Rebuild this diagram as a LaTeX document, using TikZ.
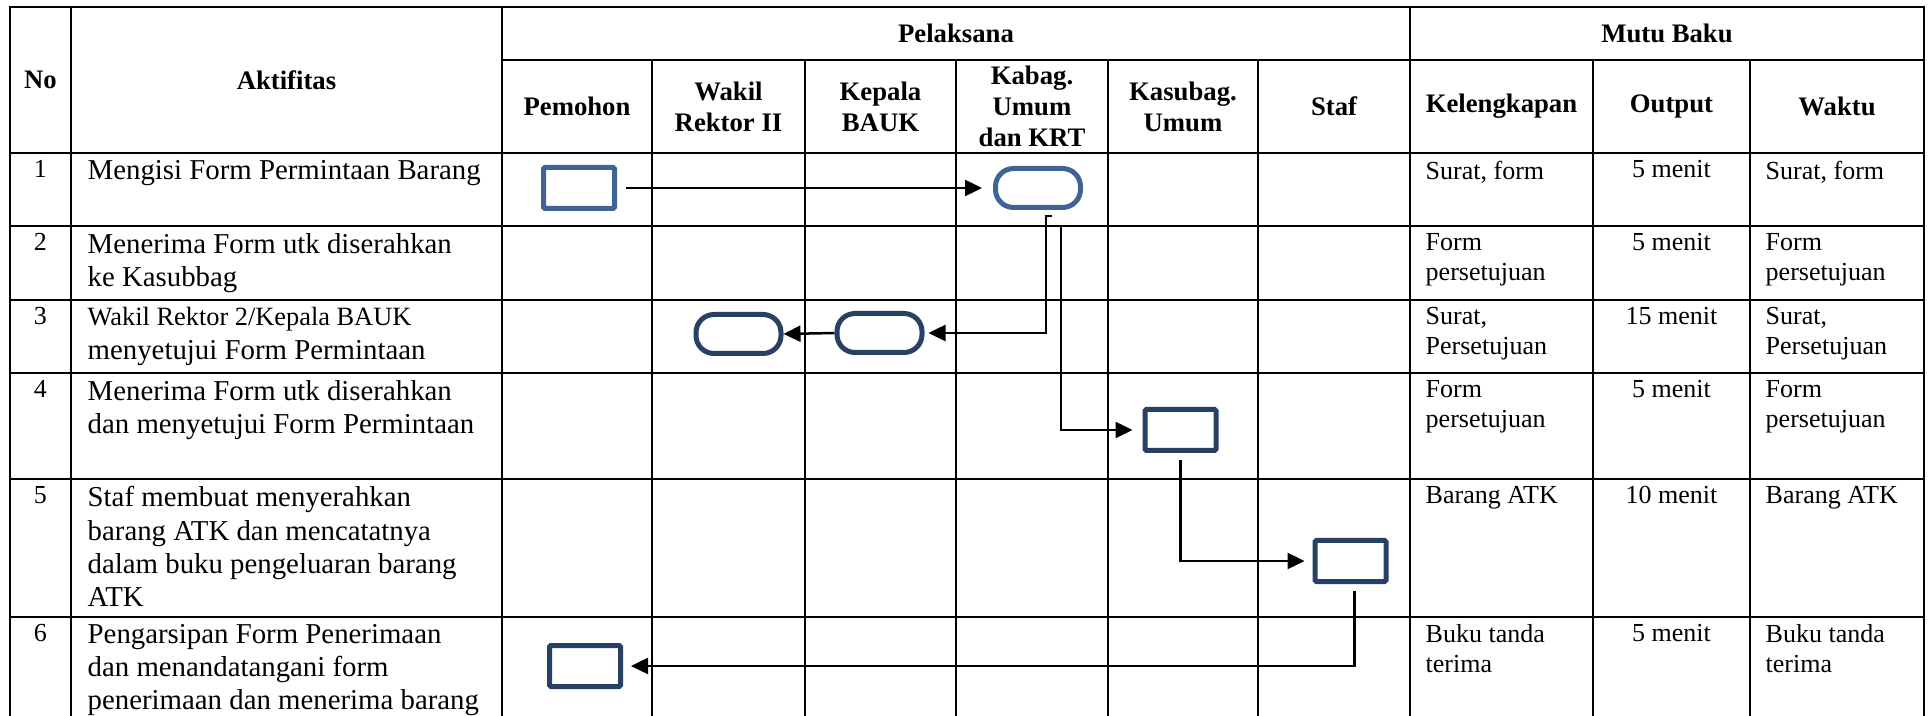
\documentclass[tikz,border=0pt]{standalone}
\usepackage{fontspec}
\setmainfont{Liberation Serif}
\usepackage{tikz}
\usetikzlibrary{arrows.meta,positioning}
\definecolor{biru}{RGB}{62,100,148}
\definecolor{navy}{RGB}{40,64,100}
\newcommand{\fAkt}{\fontsize{8.2}{9.4}\selectfont}
\newcommand{\fKecil}{\fontsize{7.5}{8.6}\selectfont}
\newcommand{\fMutu}{\fontsize{7.4}{8.5}\selectfont}
\newcommand{\fHead}{\fontsize{7.6}{8.8}\selectfont\bfseries}

\begin{document}
\begin{tikzpicture}[
  hdr/.style={font=\fHead, align=center, inner sep=0pt},
  akt/.style={font=\fAkt, align=left, anchor=north west, inner sep=0pt},
  mutu/.style={font=\fMutu, align=left, anchor=north west, inner sep=0pt},
  num/.style={font=\fMutu, anchor=north, inner sep=0pt},
  kotak/.style={draw=#1, line width=0.5mm, rounded corners=0.4pt,
                minimum width=0.71cm, minimum height=0.41cm, inner sep=0pt},
  lonjong/.style={draw=#1, line width=0.5mm, rounded corners=1.8mm,
                minimum width=0.85cm, minimum height=0.39cm, inner sep=0pt},
  arrow/.style={-{Triangle[length=1.7mm,width=1.6mm]}, line width=0.25mm, #1},
  garis/.style={line width=0.26mm}
]
\useasboundingbox (0,0) rectangle (19.30,-7.16);

%% Table grid
\draw[garis] (0.10,-7.16) -- (0.10,-0.07) -- (19.24,-0.07) -- (19.24,-7.16);
\draw[garis] (5.02,-0.60) -- (19.24,-0.60);
\draw[garis] (0.10,-1.53) -- (19.24,-1.53);
\draw[garis] (0.10,-2.26) -- (19.24,-2.26);
\draw[garis] (0.10,-3.00) -- (19.24,-3.00);
\draw[garis] (0.10,-3.73) -- (19.24,-3.73);
\draw[garis] (0.10,-4.79) -- (19.24,-4.79);
\draw[garis] (0.10,-6.17) -- (19.24,-6.17);
\draw[garis] (0.71,-0.07) -- (0.71,-7.16);
\draw[garis] (5.02,-0.07) -- (5.02,-7.16);
\draw[garis] (14.10,-0.07) -- (14.10,-7.16);
\draw[garis] (6.52,-0.60) -- (6.52,-7.16);
\draw[garis] (8.05,-0.60) -- (8.05,-7.16);
\draw[garis] (9.56,-0.60) -- (9.56,-7.16);
\draw[garis] (11.08,-0.60) -- (11.08,-7.16);
\draw[garis] (12.58,-0.60) -- (12.58,-7.16);
\draw[garis] (15.93,-0.60) -- (15.93,-7.16);
\draw[garis] (17.50,-0.60) -- (17.50,-7.16);

%% Header
\node[hdr] (hNo)   at (0.405,-0.80) {No};
\node[hdr] (hAkt)  at (2.865,-0.80) {Aktifitas};
\node[hdr] (hPel)  at (9.56,-0.335) {Pelaksana};
\node[hdr] (hMutu) at (16.67,-0.335) {Mutu Baku};
\node[hdr] (hPem)  at (5.77,-1.065)  {Pemohon};
\node[hdr] (hWr)   at (7.285,-1.065) {Wakil\\Rektor II};
\node[hdr] (hKb)   at (8.805,-1.065) {Kepala\\BAUK};
\node[hdr] (hKbg)  at (10.32,-1.065) {Kabag.\\Umum\\dan KRT};
\node[hdr] (hKsb)  at (11.83,-1.065) {Kasubag.\\Umum};
\node[hdr] (hStf)  at (13.34,-1.065) {Staf};
\node[hdr] (hKel)  at (15.015,-1.065) {Kelengkapan};
\node[hdr] (hOut)  at (16.715,-1.065) {Output};
\node[hdr] (hWkt)  at (18.37,-1.065)  {Waktu};

%% Rows
\node[num]  (n1) at (0.405,-1.60) {1};
\node[akt]  (a1) at (0.87,-1.60)  {Mengisi Form Permintaan Barang};
\node[mutu] (k1) at (14.25,-1.60) {Surat, form};
\node[num]  (o1) at (16.715,-1.60) {5 menit};
\node[mutu] (w1) at (17.65,-1.60) {Surat, form};

\node[num]  (n2) at (0.405,-2.33) {2};
\node[akt]  (a2) at (0.87,-2.33)  {Menerima Form utk diserahkan\\ke Kasubbag};
\node[mutu] (k2) at (14.25,-2.33) {Form\\persetujuan};
\node[num]  (o2) at (16.715,-2.33) {5 menit};
\node[mutu] (w2) at (17.65,-2.33) {Form\\persetujuan};

\node[num]  (n3) at (0.405,-3.07) {3};
\node[akt]  (a3) at (0.87,-3.07)  {{\fKecil Wakil Rektor 2/Kepala BAUK}\\menyetujui Form Permintaan};
\node[mutu] (k3) at (14.25,-3.07) {Surat,\\Persetujuan};
\node[num]  (o3) at (16.715,-3.07) {15 menit};
\node[mutu] (w3) at (17.65,-3.07) {Surat,\\Persetujuan};

\node[num]  (n4) at (0.405,-3.80) {4};
\node[akt]  (a4) at (0.87,-3.80)  {Menerima Form utk diserahkan\\dan menyetujui Form Permintaan};
\node[mutu] (k4) at (14.25,-3.80) {Form\\persetujuan};
\node[num]  (o4) at (16.715,-3.80) {5 menit};
\node[mutu] (w4) at (17.65,-3.80) {Form\\persetujuan};

\node[num]  (n5) at (0.405,-4.86) {5};
\node[akt]  (a5) at (0.87,-4.86)  {Staf membuat menyerahkan\\barang ATK dan mencatatnya\\dalam buku pengeluaran barang\\ATK};
\node[mutu] (k5) at (14.25,-4.86) {Barang ATK};
\node[num]  (o5) at (16.715,-4.86) {10 menit};
\node[mutu] (w5) at (17.65,-4.86) {Barang ATK};

\node[num]  (n6) at (0.405,-6.24) {6};
\node[akt]  (a6) at (0.87,-6.24)  {Pengarsipan Form Penerimaan\\dan menandatangani form\\penerimaan dan menerima barang};
\node[mutu] (k6) at (14.25,-6.24) {Buku tanda\\terima};
\node[num]  (o6) at (16.715,-6.24) {5 menit};
\node[mutu] (w6) at (17.65,-6.24) {Buku tanda\\terima};

%% Flow shapes
\node[kotak=biru]   (pem1)  at (5.79,-1.88)  {};
\node[lonjong=biru] (kabag) at (10.38,-1.88) {};
\node[lonjong=navy] (wakil) at (7.385,-3.34) {};
\node[lonjong=navy] (kepala) at (8.795,-3.33) {};
\node[kotak=navy]   (kasub) at (11.805,-4.30) {};
\node[kotak=navy]   (staf)  at (13.505,-5.61) {};
\node[kotak=navy]   (pem6)  at (5.85,-6.66)  {};

%% Connectors
\draw[arrow={shorten <=0.9mm, shorten >=1.1mm}] (pem1.east) -- (kabag.west);
\draw[arrow={shorten >=0.4mm}] ([xshift=1.4mm,yshift=-0.6mm]kabag.south) -- ++(-0.6mm,0) |- (kepala.east);
\draw[arrow={shorten >=1.0mm}] ([xshift=2.3mm,yshift=-1.6mm]kabag.south) |- (kasub.west);
\draw[arrow={}] (kepala.west) -- (wakil.east);
\draw[arrow={shorten >=0.8mm}] ([yshift=-0.7mm]kasub.south) |- (staf.west);
\draw[arrow={shorten >=0.8mm}] ([xshift=0.4mm,yshift=-0.7mm]staf.south) |- (pem6.east);

\end{tikzpicture}
\end{document}
